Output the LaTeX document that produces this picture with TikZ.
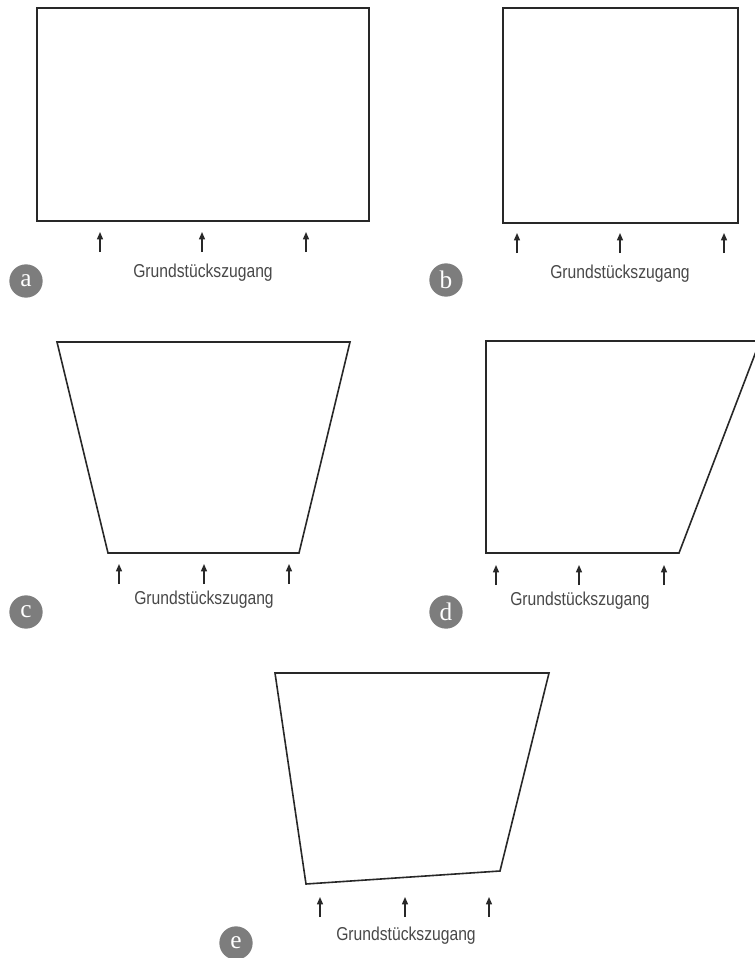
\documentclass[tikz,border=0pt]{standalone}
\usepackage{fontspec}
\usetikzlibrary{arrows.meta}
\newfontfamily\zugangfont[FakeStretch=0.84]{Liberation Sans}
\newfontfamily\badgefont{Liberation Serif}
\definecolor{badgegray}{RGB}{125,125,125}
\definecolor{plotline}{RGB}{40,40,40}

\begin{document}
\begin{tikzpicture}[x=0.75pt, y=-0.75pt,
        plot/.style={draw=plotline, line width=1.2pt, line join=miter},
        access/.style={draw=plotline, line width=1pt, -{Triangle[length=5.5pt,width=4.5pt]}},
        zugang/.style={text=plotline!85, font=\zugangfont\fontsize{14}{16}\selectfont, inner sep=0pt},
        badge/.style={circle, fill=badgegray, text=white, minimum size=25pt, inner sep=0pt,
            font=\badgefont\fontsize{19}{21}\selectfont}]
        \useasboundingbox (0,0) rectangle (755,958);
        \clip (0,0) rectangle (755,958);

        % a
        \draw[plot] (37,8) rectangle (369,221);
        \coordinate (a1) at (100,252); \coordinate (a1t) at (100,232);
        \coordinate (a2) at (202,252); \coordinate (a2t) at (202,232);
        \coordinate (a3) at (306,252); \coordinate (a3t) at (306,232);
        \draw[access] (a1) -- (a1t);
        \draw[access] (a2) -- (a2t);
        \draw[access] (a3) -- (a3t);
        \node[zugang] (za) at (203,273) {Grundstückszugang};
        \node[badge] (ba) at (26,281) {a};

        % b
        \draw[plot] (503,8) rectangle (738,223);
        \coordinate (b1) at (517,253); \coordinate (b1t) at (517,233);
        \coordinate (b2) at (620,253); \coordinate (b2t) at (620,233);
        \coordinate (b3) at (724,253); \coordinate (b3t) at (724,233);
        \draw[access] (b1) -- (b1t);
        \draw[access] (b2) -- (b2t);
        \draw[access] (b3) -- (b3t);
        \node[zugang] (zb) at (620,274) {Grundstückszugang};
        \node[badge] (bb) at (446,280) {b};

        % c
        \draw[plot] (57,342) -- (350,342) -- (299,553) -- (108,553) -- cycle;
        \coordinate (c1) at (119,584); \coordinate (c1t) at (119,564);
        \coordinate (c2) at (204,584); \coordinate (c2t) at (204,564);
        \coordinate (c3) at (289,584); \coordinate (c3t) at (289,564);
        \draw[access] (c1) -- (c1t);
        \draw[access] (c2) -- (c2t);
        \draw[access] (c3) -- (c3t);
        \node[zugang] (zc) at (204,600) {Grundstückszugang};
        \node[badge] (bc) at (26,612) {c};

        % d
        \draw[plot] (486,341) -- (760,341) -- (679,553) -- (486,553) -- cycle;
        \coordinate (d1) at (496,585); \coordinate (d1t) at (496,565);
        \coordinate (d2) at (579,585); \coordinate (d2t) at (579,565);
        \coordinate (d3) at (664,585); \coordinate (d3t) at (664,565);
        \draw[access] (d1) -- (d1t);
        \draw[access] (d2) -- (d2t);
        \draw[access] (d3) -- (d3t);
        \node[zugang] (zd) at (580,601) {Grundstückszugang};
        \node[badge] (bd) at (446,612) {d};

        % e
        \draw[plot] (275,673) -- (549,673) -- (500,871) -- (306,884) -- cycle;
        \coordinate (e1) at (320,917); \coordinate (e1t) at (320,897);
        \coordinate (e2) at (405,917); \coordinate (e2t) at (405,897);
        \coordinate (e3) at (489,917); \coordinate (e3t) at (489,897);
        \draw[access] (e1) -- (e1t);
        \draw[access] (e2) -- (e2t);
        \draw[access] (e3) -- (e3t);
        \node[zugang] (ze) at (406,936) {Grundstückszugang};
        \node[badge] (be) at (236,943) {e};
\end{tikzpicture}
\end{document}
